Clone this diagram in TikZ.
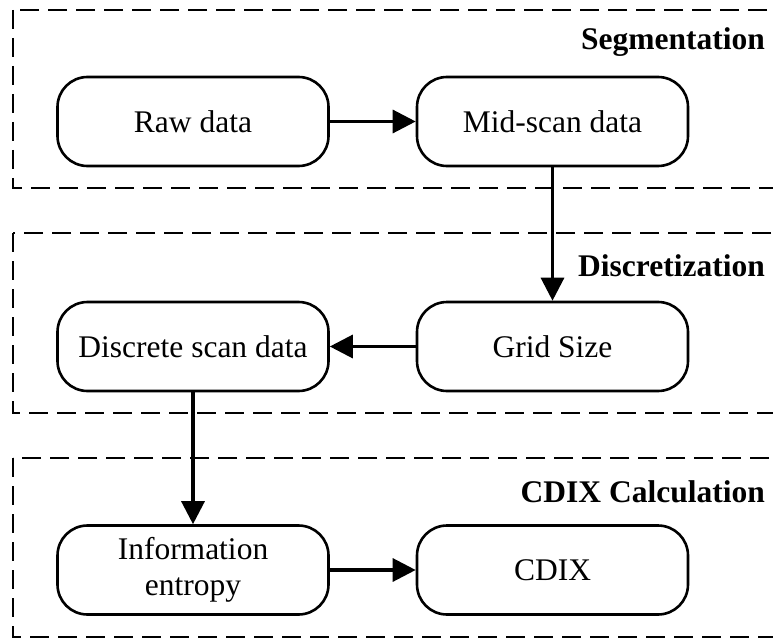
\documentclass[tikz,border=0pt]{standalone}
\usepackage{fontspec}
\setmainfont{Liberation Serif}
\usetikzlibrary{arrows.meta}
\begin{document}
\begin{tikzpicture}[x=1pt,y=-1pt,
  stage/.style={draw=black,line width=2.6pt,dash pattern=on 19pt off 9pt},
  proc/.style={draw=black,line width=2.6pt,rounded corners=30pt,minimum width=271pt,minimum height=89pt,inner sep=0pt,font=\fontsize{31.5}{36}\selectfont,align=center},
  lbl/.style={anchor=base east,inner sep=0pt,font=\fontsize{31.5}{36}\selectfont\bfseries},
  flow/.style={line width=3.2pt,-{Triangle[length=23pt,width=23pt]}}]
\useasboundingbox (0,0) rectangle (773,639);
\clip (0,0) rectangle (773,639);
\draw[stage] (13,10) rectangle (800,188);
\draw[stage] (13,233) rectangle (800,413);
\draw[stage] (13,458) rectangle (800,637);
\node[lbl] (l1) at (765,50) {Segmentation};
\node[lbl] (l2) at (765,276) {Discretization};
\node[lbl] (l3) at (765,502) {CDIX Calculation};
\node[proc] (raw) at (193,121.5) {Raw data};
\node[proc] (mid) at (552.5,121.5) {Mid-scan data};
\node[proc] (disc) at (193,346.5) {Discrete scan data};
\node[proc] (grid) at (552.5,346.5) {Grid Size};
\node[proc] (info) at (193,570) {\raisebox{-5pt}{\begin{tabular}{@{}c@{}}Information\\entropy\end{tabular}}};
\node[proc] (cdix) at (552.5,570) {CDIX};
\draw[flow] (raw) -- (mid);
\draw[flow] (mid) -- (grid);
\draw[flow] (grid) -- (disc);
\draw[flow] (disc) -- (info);
\draw[flow] (info) -- (cdix);
\end{tikzpicture}
\end{document}
